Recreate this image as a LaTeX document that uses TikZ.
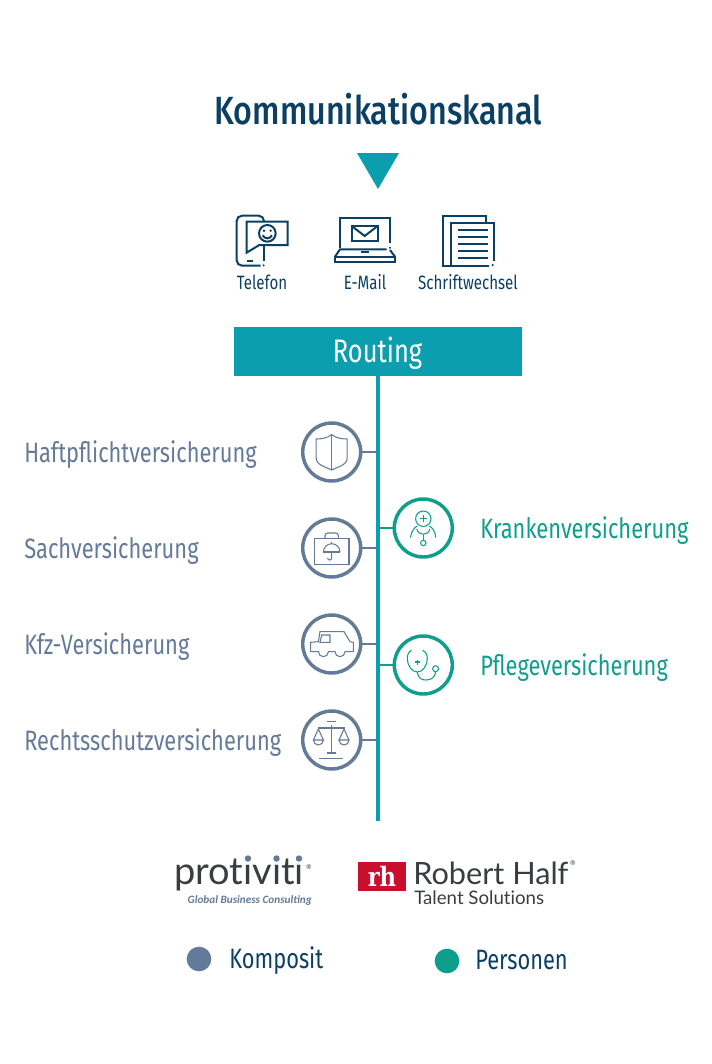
\documentclass[tikz,border=0pt]{standalone}
\usepackage{fontspec}
\usetikzlibrary{calc}
\setmainfont{Fira Sans}
\newfontfamily\condfont[FakeStretch=0.78]{Fira Sans}
\newfontfamily\titlefont[FakeStretch=0.82]{Fira Sans Medium}
\newfontfamily\logofont[Ligatures=NoCommon]{Lato}
\newfontfamily\claimfont{Carlito}
\newfontfamily\rhfont[FakeStretch=0.85]{DejaVu Serif}
\definecolor{kanalblue}{HTML}{0B3F63}
\definecolor{routeteal}{HTML}{0A9EAE}
\definecolor{kompositblue}{HTML}{647A99}
\definecolor{personengreen}{HTML}{0E9F8C}
\definecolor{logogray}{HTML}{3A3D40}
\definecolor{logored}{HTML}{C8102E}
\tikzset{
	spart/.style={circle, draw=#1, line width=2.6pt, minimum size=43.5pt, inner sep=0pt},
	spartlabel/.style={anchor=west, inner sep=0pt, text depth=0pt, font=\condfont\fontsize{21}{21}\selectfont},
	channel/.style={inner sep=0pt, text=kanalblue, font=\condfont\fontsize{14.5}{14.5}\selectfont},
	legendtext/.style={anchor=west, inner sep=0pt, text=kanalblue, font=\condfont\fontsize{21}{21}\selectfont},
	legenddot/.style={circle, fill=#1, minimum size=18.5pt, inner sep=0pt},
	iconline/.style={kanalblue, line width=1.5pt},
	thinicon/.style={#1, line width=0.8pt},
	branch/.style={line width=1.6pt},
	logotext/.style={anchor=base west, inner sep=0pt, text depth=0pt, text=logogray},
	regmark/.style={inner sep=0pt, text=logogray, font=\logofont\fontsize{5}{5}\selectfont}
}

\begin{document}
\begin{tikzpicture}[x=0.75pt, y=-0.75pt]
	\useasboundingbox (0,0) rectangle (712,1064);

	\node [inner sep=0pt, text=kanalblue, font=\titlefont\fontsize{29.5}{29.5}\selectfont] (title) at (378.5,109.5) {Kommunikationskanal};
	\fill [routeteal] (357,153) -- (399,153) -- (378,189) -- cycle;

	% channels
	\begin{scope}[shift={(220,200)}, scale=1/3]
		\draw [iconline, rounded corners=4pt] (132,65) -- (132,47) -- (50,47) -- (50,197) -- (122,197);
		\draw [iconline, rounded corners=4pt] (132,135) -- (132,182);
		\fill [kanalblue] (131,196) circle [radius=3.5];
		\draw [iconline] (80,158) -- (80,65) -- (203,65) -- (203,135) -- (118,135) -- cycle;
		\draw [iconline] (142,100) circle [radius=25];
		\fill [kanalblue] (132,92) circle [radius=4] (152,92) circle [radius=4];
		\draw [iconline] (128,106) .. controls (135,118) and (149,118) .. (156,106);
		\draw [iconline] (82,184) -- (100,184);

		\draw [iconline] (360,145) -- (360,55) -- (510,55) -- (510,130);
		\fill [kanalblue] (510,143) circle [radius=3.5];
		\draw [iconline] (395,78) rectangle (473,123);
		\draw [iconline] (395,78) -- (434,108) -- (473,78);
		\draw [iconline] (345,170) -- (360,148) -- (500,148);
		\draw [iconline] (345,170) rectangle (525,187);
		\draw [iconline] (525,170) -- (510,150);
		\draw [iconline] (423,157) -- (447,157);

		\draw [iconline] (690,197) -- (668,197) -- (668,47) -- (798,47) -- (798,70);
		\draw [iconline] (808,197) -- (692,197) -- (692,70) -- (822,70) -- (822,183);
		\fill [kanalblue] (818,195) circle [radius=3.5];
		\foreach \y in {90,110,132,152,173}
			\draw [iconline] (715,\y) -- (803,\y);
	\end{scope}
	\node [channel] (telefon) at (262,282) {Telefon};
	\node [channel] (email) at (365,282) {E-Mail};
	\node [channel] (schrift) at (468,282) {Schriftwechsel};

	% routing and stem
	\node [fill=routeteal, minimum width=216pt, minimum height=36.5pt, inner sep=0pt, text depth=2.5pt, text=white, font=\condfont\fontsize{24.5}{24.5}\selectfont] (routing) at (377.5,351.5) {Routing};
	\coordinate (stemend) at (377.5,821);

	\node [spart=kompositblue] (haftpflicht) at (331.7,452) {};
	\node [spart=kompositblue] (sach) at (331.7,548) {};
	\node [spart=kompositblue] (kfz) at (331.7,644) {};
	\node [spart=kompositblue] (recht) at (331.7,740) {};
	\node [spart=personengreen] (kranken) at (423.3,528) {};
	\node [spart=personengreen] (pflege) at (423.3,665) {};

	\draw [branch, kompositblue] (haftpflicht) -- (haftpflicht -| routing);
	\draw [branch, kompositblue] (sach) -- (sach -| routing);
	\draw [branch, kompositblue] (kfz) -- (kfz -| routing);
	\draw [branch, kompositblue] (recht) -- (recht -| routing);
	\draw [branch, personengreen] (kranken) -- (kranken -| routing);
	\draw [branch, personengreen] (pflege) -- (pflege -| routing);
	\draw [routeteal, line width=3pt] (routing.south) -- (stemend);

	\node [spartlabel, text=kompositblue] (haftpflichttext) at (24,452) {Haftpflichtversicherung};
	\node [spartlabel, text=kompositblue] (sachtext) at (24,548) {Sachversicherung};
	\node [spartlabel, text=kompositblue] (kfztext) at (24,644) {Kfz-Versicherung};
	\node [spartlabel, text=kompositblue] (rechttext) at (24,740) {Rechtsschutzversicherung};
	\node [spartlabel, text=personengreen] (krankentext) at (480,528) {Krankenversicherung};
	\node [spartlabel, text=personengreen] (pflegetext) at (480,665) {Pflegeversicherung};

	% spart icons
	\begin{scope}[shift={(haftpflicht)}, thinicon=kompositblue]
		\draw (0,-17.5) .. controls (-4,-14) and (-10,-13) .. (-15.5,-13) -- (-15.5,6) .. controls (-15.5,13) and (-6,15) .. (0,18) .. controls (6,15) and (15.5,13) .. (15.5,6) -- (15.5,-13) .. controls (10,-13) and (4,-14) .. (0,-17.5) -- cycle;
		\draw (0,-17.5) -- (0,18);
	\end{scope}
	\begin{scope}[shift={(sach)}, thinicon=kompositblue]
		\draw (-17.3,-9.3) rectangle (17.3,16.3);
		\draw [rounded corners=2pt] (-6.7,-9.3) -- (-6.7,-15) -- (6.7,-15) -- (6.7,-9.3);
		\draw (-8.3,4) arc [start angle=180, end angle=360, radius=8.3];
		\draw (-8.3,4) -- (8.3,4);
		\draw (0,4) -- (0,10) arc [start angle=0, end angle=180, radius=2];
		\draw (0,-6) -- (0,-4.3);
	\end{scope}
	\begin{scope}[shift={(kfz)}, thinicon=kompositblue]
		\draw (-11.7,-12.3) -- (12.3,-12.3) -- (18.3,-2.3) -- (21.7,-1.7) -- (21.7,7.7) -- (13.3,7.7) arc [start angle=0, end angle=180, radius=5] -- (-3.3,7.7) arc [start angle=0, end angle=180, radius=5] -- (-21,7.7) -- (-21,-1.7) -- (-13.3,-2.3) -- cycle;
		\draw (-10,-9) -- (-1.7,-9) -- (-1.7,-1.7) -- (-11.7,-1.7) -- cycle;
	\end{scope}
	\begin{scope}[shift={(recht)}, thinicon=kompositblue]
		\draw (-4.3,-18.3) -- (4,-18.3);
		\draw (-13.3,-12) -- (13.3,-12);
		\draw (0,-15) -- (0,13);
		\draw (-4.3,13) -- (4,13);
		\draw (-12.3,18.7) -- (11.7,18.7);
		\draw (-8.3,0) -- (-13.3,-11) -- (-18.3,0) -- (-8.3,0) arc [start angle=0, end angle=180, radius=5];
		\draw (17.3,0) -- (12.3,-11) -- (7.3,0) -- (17.3,0) arc [start angle=0, end angle=180, radius=5];
	\end{scope}
	\begin{scope}[shift={(kranken)}, thinicon=personengreen]
		\draw (0,-9.3) circle [radius=7.7];
		\draw (-3.5,-9.3) -- (3.5,-9.3) (0,-12.8) -- (0,-5.8);
		\draw (-12.7,9.7) .. controls (-12,2) and (-8,-1) .. (-6,-2);
		\draw (12.3,9.7) .. controls (12,2) and (8,-1) .. (6,-2);
		\draw (-6.5,1) .. controls (-5,8) and (5,8) .. (6.5,1);
		\draw (0,7) -- (0,12.3);
		\draw (0,15) circle [radius=2.7];
	\end{scope}
	\begin{scope}[shift={(pflege)}, thinicon=personengreen]
		\draw (-11.7,-14.7) .. controls (-15,-13) and (-16,-10) .. (-16,-6.3) .. controls (-16,1) and (-11,7) .. (-6,7) .. controls (-1,7) and (4,1) .. (4,-6.3) .. controls (4,-10) and (3,-13) .. (-0.7,-14.7);
		\draw (-8.5,-3) -- (-3.5,-3) (-6,-5.5) -- (-6,-0.5);
		\draw (-6,7) .. controls (-5,14) and (-1,15) .. (3,15) .. controls (8,15) and (12,12) .. (12.3,6.7);
		\draw (12.3,3.7) circle [radius=3];
	\end{scope}

	% logos
	\node [logotext, font=\logofont\fontsize{28.5}{28.5}\selectfont] (protiviti) at (174,884) {protiviti};
	\foreach \x in {248,276.5,299}
		\fill [kompositblue] (\x,858.5) circle [radius=3.2];
	\node [regmark] (protivitireg) at (309,867) {®};
	\node [inner sep=0pt, text=kompositblue, font=\claimfont\itshape\bfseries\fontsize{8.4}{8.4}\selectfont] (claim) at (249.7,900) {Global Business Consulting};
	\node [fill=logored, minimum width=35.5pt, minimum height=22pt, inner sep=0pt, text depth=0pt, text=white, font=\rhfont\bfseries\fontsize{20}{20}\selectfont] (rh) at (382,876.3) {rh};
	\node [logotext, font=\logofont\fontsize{23}{23}\selectfont] (robert) at (413,884) {Robert Half};
	\node [regmark] (robertreg) at (573,863) {®};
	\node [logotext, font=\logofont\fontsize{14}{14}\selectfont] (talent) at (414,904) {Talent Solutions};

	% legend
	\node [legenddot=kompositblue] (kompositdot) at (199,959) {};
	\node [legendtext] (komposit) at (229,961) {Komposit};
	\node [legenddot=personengreen] (personendot) at (447,961) {};
	\node [legendtext] (personen) at (475,960) {Personen};
\end{tikzpicture}
\end{document}
